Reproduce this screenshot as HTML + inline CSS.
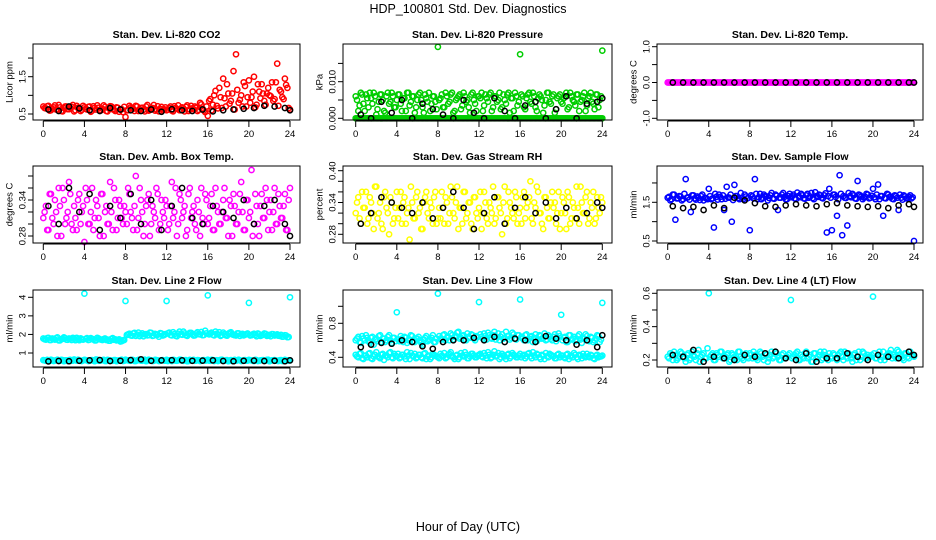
<!DOCTYPE html>
<html><head><meta charset="utf-8"><style>
html,body{margin:0;padding:0;background:#fff}
svg{display:block;font-family:"Liberation Sans",sans-serif}
</style></head><body>
<svg id="chart" width="936" height="540" viewBox="0 0 936 540" xmlns="http://www.w3.org/2000/svg">
<text x="468" y="13" text-anchor="middle" font-size="12.5">HDP_100801  Std. Dev. Diagnostics</text>
<text x="468" y="531" text-anchor="middle" font-size="12.5">Hour of Day (UTC)</text>
</svg>
<script>
const T=[0,0.25,0.5,0.75,1,1.25,1.5,1.75,2,2.25,2.5,2.75,3,3.25,3.5,3.75,4,4.25,4.5,4.75,5,5.25,5.5,5.75,6,6.25,6.5,6.75,7,7.25,7.5,7.75,8,8.25,8.5,8.75,9,9.25,9.5,9.75,10,10.25,10.5,10.75,11,11.25,11.5,11.75,12,12.25,12.5,12.75,13,13.25,13.5,13.75,14,14.25,14.5,14.75,15,15.25,15.5,15.75,16,16.25,16.5,16.75,17,17.25,17.5,17.75,18,18.25,18.5,18.75,19,19.25,19.5,19.75,20,20.25,20.5,20.75,21,21.25,21.5,21.75,22,22.25,22.5,22.75,23,23.25,23.5,23.75,24];
const T2=[0.125,0.375,0.625,0.875,1.125,1.375,1.625,1.875,2.125,2.375,2.625,2.875,3.125,3.375,3.625,3.875,4.125,4.375,4.625,4.875,5.125,5.375,5.625,5.875,6.125,6.375,6.625,6.875,7.125,7.375,7.625,7.875,8.125,8.375,8.625,8.875,9.125,9.375,9.625,9.875,10.125,10.375,10.625,10.875,11.125,11.375,11.625,11.875,12.125,12.375,12.625,12.875,13.125,13.375,13.625,13.875,14.125,14.375,14.625,14.875,15.125,15.375,15.625,15.875,16.125,16.375,16.625,16.875,17.125,17.375,17.625,17.875,18.125,18.375,18.625,18.875,19.125,19.375,19.625,19.875,20.125,20.375,20.625,20.875,21.125,21.375,21.625,21.875,22.125,22.375,22.625,22.875,23.125,23.375,23.625,23.875];
const BX=[0.5,1.5,2.5,3.5,4.5,5.5,6.5,7.5,8.5,9.5,10.5,11.5,12.5,13.5,14.5,15.5,16.5,17.5,18.5,19.5,20.5,21.5,22.5,23.5,24];
const xTicks=[0,4,8,12,16,20,24];

const co2Red=[.70,.65,.72,.60,.68,.62,.74,.58,.66,.70,.63,.69,.57,.72,.64,.61,.68,.62,.70,.59,.66,.73,.60,.64,.69,.57,.71,.63,.58,.67,.62,.55,.42,.60,.68,.64,.72,.58,.66,.61,.70,.59,.65,.74,.62,.57,.69,.63,.60,.66,.59,.71,.64,.60,.68,.57,.73,.62,.65,.70,.58,.80,.64,.55,.45,.90,.75,1.12,.65,.95,1.45,.70,1.05,.85,1.65,2.1,.80,1.0,1.35,.70,1.4,.95,1.5,.75,1.1,1.3,.85,1.05,1.0,1.35,.90,1.85,1.15,.95,1.45,1.2,.62];
const co2Red2=[.66,.71,.59,.64,.73,.62,.68,.57,.70,.63,.66,.74,.60,.67,.58,.72,.64,.69,.56,.71,.62,.67,.60,.73,.58,.65,.70,.61,.68,.56,.63,.69,.60,.72,.65,.58,.70,.63,.67,.57,.74,.61,.66,.59,.71,.64,.60,.68,.62,.70,.57,.66,.73,.60,.65,.69,.58,.72,.63,.67,.61,.76,.59,.70,.85,.60,1.0,.72,1.2,.66,.92,1.3,.78,1.05,.62,1.15,.88,.70,1.25,.95,.80,1.1,.68,1.3,.92,1.05,.75,1.2,.98,.85,1.35,.72,1.1,.90,1.28,.66];
const co2Black=[.62,.58,.70,.65,.60,.58,.66,.62,.60,.58,.62,.56,.63,.60,.58,.62,.57,.60,.62,.64,.66,.72,.70,.66,.60];
const presZero=[0,0,0,0,0,0,0,0,0,0,0,0,0,0,0,0,0,0,0,0,0,0,0,0,0,0,0,0,0,0,0,0,0,0,0,0,0,0,0,0,0,0,0,0,0,0,0,0,0,0,0,0,0,0,0,0,0,0,0,0,0,0,0,0,0,0,0,0,0,0,0,0,0,0,0,0,0,0,0,0,0,0,0,0,0,0,0,0,0,0,0,0,0,0,0,0,0];
const presGreen=[.006,.002,.007,.004,.0065,.003,.0055,.007,.001,.0045,.0065,.002,.006,.004,.007,.003,.005,.0065,.002,.0055,.007,.0035,.006,.0015,.005,.007,.003,.0065,.0045,.002,.006,.0045,.0195,.0055,.003,.007,.004,.0065,.0015,.005,.006,.0025,.007,.0045,.003,.0065,.005,.002,.006,.007,.0035,.0055,.0065,.002,.006,.0045,.007,.003,.005,.0065,.0015,.0055,.007,.0035,.0175,.006,.0025,.0065,.0045,.007,.003,.0055,.006,.0015,.005,.007,.004,.0065,.0025,.006,.0045,.0055,.007,.003,.006,.0045,.0065,.002,.005,.007,.0035,.006,.0045,.0025,.0065,.005,.0185];
const presGreen2=[.005,.0035,.0065,.002,.0055,.007,.004,.006,.0025,.0065,.005,.0015,.007,.0045,.006,.003,.0065,.004,.0055,.002,.007,.0045,.006,.003,.0065,.005,.0015,.0055,.007,.004,.006,.0025,.005,.0065,.003,.006,.0045,.007,.002,.0055,.0065,.0035,.006,.005,.0015,.007,.004,.006,.0055,.002,.0065,.0045,.007,.003,.006,.005,.0025,.0065,.004,.007,.0055,.002,.006,.0045,.0065,.003,.0055,.007,.004,.006,.002,.0065,.005,.0035,.007,.0045,.006,.0015,.0055,.0065,.004,.006,.0025,.007,.005,.0035,.0065,.0045,.006,.002,.0055,.007,.004,.0065,.003,.006];
const presBlack=[.001,0,.0045,.0015,.005,0,.004,.0025,.001,0,.005,.0015,0,.0055,.002,0,.0035,.0045,0,.0025,.006,0,.004,.0045,.0055];
const tempMag=[0,0,0,0,0,0,0,0,0,0,0,0,0,0,0,0,0,0,0,0,0,0,0,0,0,0,0,0,0,0,0,0,0,0,0,0,0,0,0,0,0,0,0,0,0,0,0,0,0,0,0,0,0,0,0,0,0,0,0,0,0,0,0,0,0,0,0,0,0,0,0,0,0,0,0,0,0,0,0,0,0,0,0,0,0,0,0,0,0,0,0,0,0,0,0,0,0];
const tempBlack=[0,0,0,0,0,0,0,0,0,0,0,0,0,0,0,0,0,0,0,0,0,0,0,0,0];
const ambMag=[.31,.33,.29,.35,.30,.32,.36,.28,.34,.31,.37,.30,.33,.29,.35,.32,.27,.34,.30,.36,.31,.33,.28,.35,.32,.30,.37,.29,.34,.31,.33,.30,.32,.36,.32,.29,.38,.31,.34,.28,.33,.35,.30,.32,.36,.29,.34,.31,.33,.30,.37,.32,.28,.35,.31,.33,.29,.36,.32,.30,.34,.28,.31,.35,.30,.33,.29,.36,.32,.30,.34,.31,.28,.33,.35,.30,.32,.37,.29,.34,.31,.39,.30,.33,.28,.35,.31,.34,.32,.29,.36,.30,.33,.31,.35,.29,.36];
const ambMag2=[.32,.29,.35,.31,.34,.28,.33,.36,.30,.32,.35,.29,.31,.34,.30,.33,.36,.30,.32,.29,.34,.31,.35,.28,.33,.30,.32,.36,.29,.34,.31,.33,.30,.35,.31,.33,.29,.36,.32,.30,.34,.28,.33,.31,.35,.30,.32,.34,.29,.33,.31,.36,.30,.34,.32,.28,.35,.31,.33,.29,.32,.36,.30,.34,.31,.35,.29,.33,.30,.32,.36,.31,.34,.28,.33,.30,.35,.32,.29,.34,.32,.28,.35,.30,.33,.31,.36,.29,.34,.32,.30,.35,.31,.33,.29,.34];
const ambBlack=[.33,.30,.36,.32,.35,.29,.33,.31,.35,.30,.34,.29,.33,.36,.31,.30,.33,.32,.31,.34,.30,.33,.34,.30,.28];
const rhYellow=[.32,.35,.30,.33,.36,.31,.34,.29,.37,.32,.30,.35,.33,.28,.34,.31,.36,.33,.30,.35,.32,.27,.34,.31,.36,.33,.29,.35,.32,.34,.30,.36,.31,.31,.33,.35,.30,.37,.32,.34,.29,.33,.36,.31,.34,.30,.35,.32,.33,.29,.36,.31,.34,.32,.30,.35,.33,.28,.37,.31,.34,.32,.36,.30,.33,.35,.31,.34,.38,.30,.33,.36,.32,.29,.35,.31,.34,.33,.30,.36,.32,.34,.29,.35,.31,.33,.37,.30,.34,.32,.36,.31,.33,.30,.35,.32,.34];
const rhYellow2=[.34,.31,.36,.33,.30,.35,.32,.37,.31,.34,.29,.36,.32,.35,.30,.33,.31,.36,.34,.30,.33,.37,.31,.35,.32,.29,.34,.36,.31,.33,.35,.30,.33,.36,.30,.34,.32,.35,.31,.37,.33,.30,.36,.32,.34,.29,.35,.31,.36,.32,.34,.30,.33,.37,.31,.35,.32,.34,.30,.36,.33,.31,.35,.32,.30,.36,.33,.35,.31,.34,.37,.32,.30,.35,.33,.31,.36,.34,.32,.29,.35,.32,.36,.30,.34,.31,.33,.37,.32,.35,.30,.34,.36,.31,.33,.35];
const rhBlack=[.30,.32,.35,.34,.33,.32,.34,.31,.33,.36,.33,.29,.32,.35,.30,.33,.35,.32,.34,.31,.33,.31,.32,.34,.33];
const flowBlue=[1.62,1.55,1.70,1.05,1.60,1.65,1.58,2.1,1.63,1.25,1.68,1.57,1.62,1.66,1.55,1.60,1.85,1.58,0.85,1.64,1.70,1.58,1.30,1.90,1.62,1.0,1.95,1.66,1.58,1.62,1.70,1.60,0.78,1.65,2.1,1.58,1.72,1.62,1.66,1.55,1.68,1.60,1.70,1.30,1.62,1.74,1.58,1.66,1.63,1.70,1.58,1.66,1.72,1.60,1.68,1.62,1.74,1.58,1.66,1.70,1.62,1.68,0.72,1.85,0.78,1.70,1.15,2.2,0.65,1.62,0.90,1.66,1.72,1.60,2.05,1.68,1.58,1.64,1.70,1.62,1.85,1.58,1.96,1.66,1.15,1.60,1.70,1.64,1.58,1.66,1.30,1.62,1.68,1.60,1.64,1.6,0.5];
const flowBlue2=[1.64,1.58,1.70,1.60,1.66,1.55,1.72,1.62,1.57,1.68,1.60,1.65,1.56,1.70,1.62,1.58,1.66,1.60,1.72,1.57,1.64,1.68,1.59,1.63,1.70,1.56,1.66,1.61,1.74,1.58,1.65,1.62,1.68,1.60,1.72,1.63,1.58,1.70,1.65,1.61,1.74,1.59,1.67,1.62,1.70,1.64,1.58,1.72,1.66,1.60,1.75,1.63,1.68,1.59,1.72,1.65,1.61,1.76,1.64,1.68,1.60,1.73,1.66,1.62,1.70,1.64,1.58,1.72,1.66,1.61,1.74,1.63,1.68,1.59,1.70,1.65,1.62,1.72,1.60,1.67,1.63,1.70,1.58,1.66,1.61,1.72,1.64,1.59,1.68,1.62,1.70,1.57,1.65,1.61,1.68,1.63];
const flowBlack=[1.40,1.35,1.38,1.30,1.42,1.35,1.62,1.55,1.48,1.40,1.38,1.42,1.45,1.42,1.40,1.45,1.48,1.42,1.40,1.38,1.40,1.35,1.42,1.45,1.38];
const l2Upper=[1.78,1.72,1.82,1.70,1.76,1.80,1.68,1.75,1.84,1.72,1.78,1.70,1.76,1.82,1.69,1.74,4.2,1.80,1.72,1.76,1.68,1.82,1.74,1.70,1.78,1.72,1.66,1.80,1.74,1.70,1.62,1.68,3.8,2.0,1.95,2.05,1.92,2.1,1.98,1.90,2.02,1.96,2.08,1.94,2.0,1.88,2.05,1.97,3.8,2.1,1.95,2.02,1.90,2.15,1.98,2.05,1.92,2.08,2.0,1.95,2.12,2.0,1.96,2.2,4.1,2.05,1.98,2.15,2.0,1.92,2.1,1.96,2.04,2.12,1.98,1.94,2.06,2.0,1.95,2.02,3.7,1.96,2.04,1.90,2.0,1.95,2.05,1.92,1.98,2.02,1.94,2.0,1.92,1.88,1.96,1.85,4.0];
const l2Upper2=[1.74,1.80,1.70,1.78,1.72,1.84,1.68,1.76,1.80,1.71,1.77,1.82,1.69,1.75,1.79,1.72,1.76,1.70,1.80,1.73,1.68,1.78,1.72,1.75,1.70,1.66,1.76,1.71,1.68,1.74,1.64,1.70,1.97,2.04,1.93,2.08,1.99,1.91,2.06,2.0,1.95,2.1,1.92,2.03,1.98,2.07,1.94,2.02,2.06,1.97,2.12,1.93,2.04,2.0,2.15,1.96,2.03,2.09,1.94,2.05,2.01,2.13,1.97,2.06,2.0,2.1,1.95,2.04,2.12,1.97,2.02,1.93,2.08,2.0,1.96,2.06,1.92,2.03,1.98,2.05,1.94,2.0,1.97,2.05,1.92,1.99,2.03,1.95,1.90,2.01,1.96,1.93,1.98,1.89,1.94,1.86];
const l2Lower=[.62,.58,.60,.64,.57,.61,.59,.63,.56,.60,.62,.58,.65,.59,.61,.57,.63,.60,.58,.62,.56,.64,.59,.61,.57,.63,.60,.58,.62,.59,.61,.57,.64,.60,.58,.62,.57,.63,.59,.61,.56,.64,.60,.58,.62,.57,.61,.59,.63,.60,.57,.62,.58,.64,.59,.61,.56,.63,.60,.58,.62,.57,.61,.59,.64,.58,.62,.60,.57,.63,.59,.61,.56,.62,.60,.58,.64,.57,.61,.59,.63,.60,.57,.62,.58,.61,.59,.63,.56,.60,.62,.58,.61,.57,.63,.59,.60];
const l2Lower2=[.60,.63,.57,.61,.59,.64,.58,.62,.60,.57,.63,.59,.61,.64,.58,.60,.62,.57,.61,.59,.65,.58,.60,.63,.57,.61,.59,.62,.56,.60,.64,.58,.61,.59,.63,.57,.60,.62,.58,.64,.59,.61,.57,.63,.60,.58,.62,.59,.57,.61,.63,.59,.60,.64,.58,.62,.57,.60,.63,.59,.61,.58,.62,.60,.59,.63,.57,.61,.60,.64,.58,.62,.59,.57,.63,.60,.61,.58,.62,.59,.61,.58,.63,.57,.60,.62,.59,.64,.58,.61,.60,.57,.62,.59,.61,.60];
const l2Black=[.55,.57,.56,.58,.60,.62,.57,.58,.62,.66,.58,.60,.61,.60,.58,.59,.60,.57,.56,.58,.59,.57,.58,.56,.60];
const l3Upper=[.60,.64,.57,.62,.66,.59,.63,.55,.61,.65,.58,.62,.60,.66,.57,.63,.93,.59,.62,.64,.57,.61,.65,.58,.62,.60,.55,.63,.59,.61,.66,.58,1.15,.62,.66,.60,.64,.68,.61,.65,.70,.63,.66,.60,.64,.67,.62,.65,1.05,.64,.68,.61,.66,.62,.70,.64,.60,.67,.63,.65,.61,.69,.62,.66,1.08,.62,.66,.60,.64,.58,.67,.61,.65,.63,.60,.66,.62,.64,.59,.68,.90,.63,.58,.66,.61,.64,.60,.67,.57,.62,.65,.59,.63,.60,.66,.58,1.04];
const l3Upper2=[.62,.58,.65,.60,.63,.57,.64,.61,.59,.66,.62,.58,.64,.60,.63,.59,.61,.65,.58,.63,.60,.66,.59,.62,.64,.57,.61,.65,.60,.63,.58,.62,.65,.61,.67,.63,.60,.66,.64,.69,.62,.65,.61,.68,.63,.66,.60,.64,.67,.62,.65,.69,.63,.66,.61,.68,.64,.62,.70,.65,.63,.67,.61,.66,.64,.60,.67,.62,.65,.63,.59,.66,.62,.68,.61,.64,.60,.67,.63,.65,.60,.64,.58,.66,.62,.59,.65,.61,.63,.67,.60,.64,.58,.62,.65,.61];
const l3Lower=[.43,.40,.45,.38,.42,.44,.39,.41,.46,.40,.43,.37,.42,.45,.40,.44,.41,.39,.43,.41,.46,.38,.42,.44,.40,.43,.39,.45,.41,.38,.44,.42,.40,.44,.41,.39,.43,.46,.40,.42,.38,.45,.41,.43,.39,.44,.42,.40,.43,.41,.45,.39,.43,.40,.47,.42,.38,.44,.41,.43,.39,.45,.42,.40,.44,.42,.39,.44,.41,.46,.40,.43,.38,.42,.45,.40,.43,.41,.39,.44,.42,.40,.43,.38,.42,.45,.40,.43,.39,.41,.44,.40,.42,.38,.43,.41,.42];
const l3Lower2=[.41,.44,.39,.42,.40,.45,.38,.43,.41,.39,.44,.42,.40,.46,.39,.42,.44,.40,.43,.38,.42,.45,.41,.39,.43,.40,.44,.38,.42,.40,.43,.41,.39,.42,.45,.40,.44,.41,.38,.43,.40,.42,.46,.39,.41,.44,.40,.42,.44,.40,.42,.46,.39,.43,.41,.45,.40,.42,.38,.44,.41,.43,.40,.42,.40,.43,.41,.45,.39,.42,.44,.40,.43,.38,.41,.44,.42,.39,.43,.40,.42,.39,.44,.41,.40,.43,.38,.42,.44,.40,.41,.43,.39,.42,.40,.41];
const l3Black=[.52,.55,.57,.56,.60,.58,.53,.50,.58,.60,.60,.63,.60,.64,.58,.62,.60,.58,.65,.62,.60,.55,.60,.52,.66];
const l4Cyan=[.22,.24,.20,.23,.21,.25,.22,.19,.24,.21,.23,.20,.26,.22,.24,.21,.60,.23,.20,.24,.22,.25,.21,.23,.19,.24,.22,.20,.25,.21,.23,.22,.24,.21,.23,.20,.25,.22,.24,.19,.23,.21,.25,.22,.20,.24,.21,.23,.56,.22,.24,.20,.23,.21,.25,.22,.19,.24,.21,.23,.20,.25,.22,.24,.21,.23,.20,.24,.22,.25,.21,.23,.19,.24,.22,.20,.25,.21,.23,.22,.58,.21,.23,.20,.25,.22,.24,.26,.23,.21,.25,.22,.20,.24,.21,.23,.22];
const l4Cyan2=[.21,.23,.25,.20,.22,.24,.21,.23,.20,.25,.22,.24,.19,.23,.21,.27,.22,.24,.20,.23,.25,.21,.22,.24,.20,.23,.21,.25,.22,.20,.24,.21,.23,.25,.21,.22,.24,.20,.23,.21,.25,.22,.24,.20,.23,.21,.22,.24,.21,.23,.25,.20,.22,.24,.21,.23,.19,.24,.22,.25,.21,.23,.20,.22,.24,.21,.23,.25,.20,.22,.24,.21,.23,.20,.25,.22,.24,.21,.22,.23,.24,.21,.25,.22,.20,.23,.24,.21,.22,.26,.23,.21,.24,.22,.25,.23];
const l4Black=[.23,.22,.26,.19,.22,.21,.20,.23,.22,.24,.25,.21,.20,.24,.19,.21,.21,.24,.22,.20,.23,.22,.21,.25,.23];

const cols=[{b0:33,b1:300,h0:43.3,h24:290},{b0:343,b1:612,h0:355.7,h24:602.3},{b0:657,b1:923,h0:667.7,h24:914}];
const rows=[{t:44,b:120},{t:166,b:243},{t:290,b:367}];
const panels=[
 {name:'co2',title:'Stan. Dev. Li-820 CO2',ylab:'Licor ppm',c:0,r:0,v0:0.5,p0:114,v1:1.5,p1:76.7,ticks:[0.5,1,1.5,2],labels:['0.5','','1.5',''],series:[[T,co2Red,'#ff0000'],[T2,co2Red2,'#ff0000'],[BX,co2Black,'#000']]},
 {name:'pressure',title:'Stan. Dev. Li-820 Pressure',ylab:'kPa',c:1,r:0,v0:0,p0:118.3,v1:0.01,p1:81.7,ticks:[0,0.005,0.01,0.015],labels:['0.000','','0.010',''],series:[[T,presZero,'#00cd00'],[T2,presZero,'#00cd00'],[T,presGreen,'#00cd00'],[T2,presGreen2,'#00cd00'],[BX,presBlack,'#000']]},
 {name:'temp',title:'Stan. Dev. Li-820 Temp.',ylab:'degrees C',c:2,r:0,v0:-1,p0:118.3,v1:1,p1:46.7,ticks:[-1,-0.5,0,0.5,1],labels:['-1.0','','0.0','','1.0'],series:[[T,tempMag,'#ff00ff'],[T2,tempMag,'#ff00ff'],[BX,tempBlack,'#000']]},
 {name:'amb-box-temp',title:'Stan. Dev. Amb. Box Temp.',ylab:'degrees C',c:0,r:1,v0:0.28,p0:236,v1:0.34,p1:200,ticks:[0.28,0.30,0.32,0.34,0.36,0.38],labels:['0.28','','','0.34','',''],series:[[T,ambMag,'#ff00ff'],[T2,ambMag2,'#ff00ff'],[BX,ambBlack,'#000']]},
 {name:'gas-rh',title:'Stan. Dev. Gas Stream RH',ylab:'percent',c:1,r:1,v0:0.28,p0:234.3,v1:0.40,p1:170.7,ticks:[0.28,0.30,0.32,0.34,0.36,0.38,0.40],labels:['0.28','','','0.34','','','0.40'],series:[[T,rhYellow,'#ffff00'],[T2,rhYellow2,'#ffff00'],[BX,rhBlack,'#000']]},
 {name:'sample-flow',title:'Stan. Dev. Sample Flow',ylab:'ml/min',c:2,r:1,v0:0.5,p0:241,v1:1.5,p1:202.3,ticks:[0.5,1,1.5,2],labels:['0.5','','1.5',''],series:[[T,flowBlue,'#0000ff'],[T2,flowBlue2,'#0000ff'],[BX,flowBlack,'#000']]},
 {name:'line2-flow',title:'Stan. Dev. Line 2 Flow',ylab:'ml/min',c:0,r:2,v0:1,p0:353,v1:4,p1:297.3,ticks:[1,2,3,4],labels:['1','2','3','4'],series:[[T,l2Upper,'#00ffff'],[T2,l2Upper2,'#00ffff'],[T,l2Lower,'#00ffff'],[T2,l2Lower2,'#00ffff'],[BX,l2Black,'#000']]},
 {name:'line3-flow',title:'Stan. Dev. Line 3 Flow',ylab:'ml/min',c:1,r:2,v0:0.4,p0:357.3,v1:0.8,p1:323.3,ticks:[0.4,0.6,0.8,1.0],labels:['0.4','','0.8',''],series:[[T,l3Upper,'#00ffff'],[T2,l3Upper2,'#00ffff'],[T,l3Lower,'#00ffff'],[T2,l3Lower2,'#00ffff'],[BX,l3Black,'#000']]},
 {name:'line4-flow',title:'Stan. Dev. Line 4 (LT) Flow',ylab:'ml/min',c:2,r:2,v0:0.2,p0:360,v1:0.6,p1:293.3,ticks:[0.2,0.3,0.4,0.5,0.6],labels:['0.2','','0.4','','0.6'],series:[[T,l4Cyan,'#00ffff'],[T2,l4Cyan2,'#00ffff'],[BX,l4Black,'#000']]}
];
const NS='http://www.w3.org/2000/svg';
const svg=document.getElementById('chart');
function mk(tag,attrs,parent){const e=document.createElementNS(NS,tag);for(const k in attrs)e.setAttribute(k,attrs[k]);parent.appendChild(e);return e;}
panels.forEach(p=>{
 const C=cols[p.c],R=rows[p.r];
 const xs=h=>C.h0+(C.h24-C.h0)*h/24;
 const ys=v=>p.p0+(p.p1-p.p0)*(v-p.v0)/(p.v1-p.v0);
 const g=mk('g',{},svg);
 
 
 const tt=mk('text',{x:(C.b0+C.b1)/2,y:R.t-6,'text-anchor':'middle','font-size':'10.5','font-weight':'bold'},g);
 tt.textContent=p.title;
 
 
 const pts=mk('g',{fill:'none','stroke-width':'1.5'},g);
 
 
 p.series.forEach(s=>{
  const X=s[0],Y=s[1],n=Math.min(X.length,Y.length);
  for(let i=0;i<n;i++){
   const c=mk('circle',{cx:xs(X[i]).toFixed(1),cy:ys(Y[i]).toFixed(1),r:'2.6',stroke:s[2]},pts);
   
   
  }
 });
 const box=mk('rect',{x:C.b0,y:R.t,width:C.b1-C.b0,height:R.b-R.t,fill:'none',stroke:'#000','stroke-width':'1'},g);
 
 
 const xa=mk('g',{},g);
 
 
 mk('line',{x1:xs(0),x2:xs(24),y1:R.b+1,y2:R.b+1,stroke:'#000'},xa);
 xTicks.forEach(h=>{
  mk('line',{x1:xs(h),x2:xs(h),y1:R.b+1,y2:R.b+7,stroke:'#000'},xa);
  const t=mk('text',{x:xs(h),y:R.b+17,'text-anchor':'middle','font-size':'9.5'},xa);
  t.textContent=h;
  
  
 });
 const ya=mk('g',{},g);
 
 
 mk('line',{x1:C.b0,x2:C.b0,y1:ys(p.ticks[0]),y2:ys(p.ticks[p.ticks.length-1]),stroke:'#000'},ya);
 p.ticks.forEach((v,i)=>{
  const y=ys(v);
  mk('line',{x1:C.b0-5,x2:C.b0,y1:y,y2:y,stroke:'#000'},ya);
  if(p.labels[i]){
   const t=mk('text',{x:C.b0-10,y:y,'text-anchor':'middle','font-size':'9.5',transform:'rotate(-90 '+(C.b0-10)+' '+y+')','dominant-baseline':'middle'},ya);
   t.textContent=p.labels[i];
   
   
  }
 });
 const cy=(R.t+R.b)/2;
 const yl=mk('text',{x:C.b0-23,y:cy,'text-anchor':'middle','font-size':'9.5',transform:'rotate(-90 '+(C.b0-23)+' '+cy+')','dominant-baseline':'middle'},g);
 yl.textContent=p.ylab;
 
 
});
</script>
</body></html>
